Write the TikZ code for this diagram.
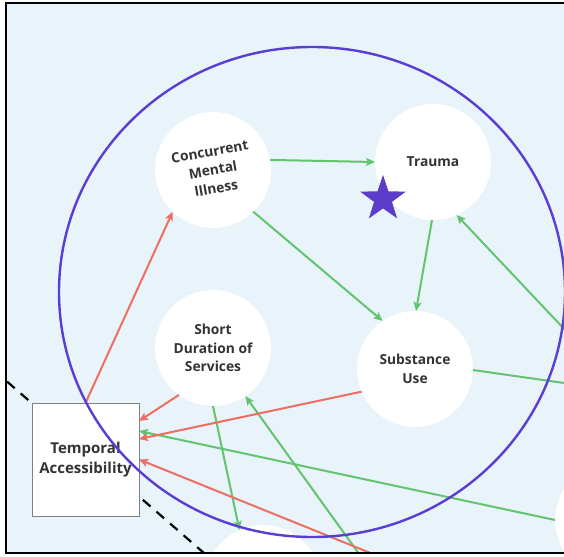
\documentclass[tikz,border=0pt]{standalone}
\usepackage{fontspec}
\setmainfont{Open Sans}
\usetikzlibrary{arrows.meta,shapes.geometric}

\definecolor{bgblue}{HTML}{E8F3FA}
\definecolor{ringpurple}{HTML}{5A3DD2}
\definecolor{starpurple}{HTML}{5B3CCB}
\definecolor{linkgreen}{HTML}{62C46E}
\definecolor{linkred}{HTML}{EE6E64}
\definecolor{textgray}{HTML}{333333}
\definecolor{boxgray}{HTML}{808080}

\tikzset{
  bubble/.style={circle, fill=white, minimum size=116pt, inner sep=0pt, outer sep=0pt,
    align=center, text=textgray, font=\bfseries\fontsize{13.8}{18.5}\selectfont},
  tabox/.style={rectangle, draw=boxgray, line width=0.8pt, fill=white,
    minimum width=107pt, minimum height=113pt, inner sep=0pt, outer sep=0pt,
    align=center, text=textgray, font=\bfseries\fontsize{15}{20}\selectfont},
  tip/.style={-{Stealth[length=9pt,width=8pt,inset=2pt]}},
  greenarr/.style={draw=linkgreen, line width=2pt, tip},
  redarr/.style={draw=linkred, line width=2pt, tip},
  divider/.style={draw=black, line width=2.2pt, dash pattern=on 10pt off 8pt},
  ring/.style={draw=ringpurple, line width=2.4pt},
}

\begin{document}
\begin{tikzpicture}[x=1pt,y=-1pt]
\useasboundingbox (0,0) rectangle (564,556);
\clip (0,0) rectangle (564,556);
\fill[bgblue] (6,3) rectangle (580,553);

\begin{scope}
\clip (6,3) rectangle (580,553);

% dashed divider behind the box
\coordinate (dA) at (-20,358);
\coordinate (dB) at (220,567);
\draw[divider] (dA) -- (dB);

% factor nodes
\node[bubble, rotate=10] (cmi) at (213,170) {Concurrent\\Mental\\Illness};
\node[bubble] (trauma) at (433,162) {Trauma};
\node[bubble] (sd) at (213,348) {Short\\Duration of\\Services};
\node[bubble] (sub) at (415,369) {Substance\\Use};
\node[bubble] (bot) at (263,583) {};
\node[bubble] (rgt) at (613,520) {};
\node[tabox] (ta) at (85.5,459.5) {Temporal\\Accessibility};

% links leaving the frame
\coordinate (offR1) at (600,367);
\coordinate (offR2) at (620,391);
\coordinate (offB1) at (420,573);
\coordinate (offB2) at (380,583);

% green links
\draw[greenarr] (cmi.0) -- (trauma.180);
\draw[greenarr] (cmi.-56) -- (sub.124);
\draw[greenarr] (trauma.-91) -- (sub.89);
\draw[greenarr] (offR1) -- (trauma.-66);
\draw[greenarr] (sub.-1) -- (offR2);
\draw[greenarr] (sd.-90) -- (bot.114);
\draw[greenarr] (offB2) -- (sd.-56);
\draw[greenarr] (rgt.180) -- ([yshift=28.5pt]ta.east);

% red links
\draw[redarr] (ta.north) -- (cmi.216);
\draw[redarr] (sd.234) -- ([yshift=38.5pt]ta.east);
\draw[redarr] (sub.203) -- ([yshift=20.5pt]ta.east);
\draw[redarr] (offB1) -- (ta.east);

% marker star
\node[star, star points=5, star point ratio=2.55, fill=starpurple, minimum size=48pt,
  inner sep=0pt] (mark) at (383,199) {};

% enclosing ring
\draw[ring] (312,292) ellipse [x radius=253, y radius=245];
\end{scope}

% frame
\draw[black, line width=2pt] (580,3) -- (6,3) -- (6,553) -- (580,553);
\end{tikzpicture}
\end{document}
